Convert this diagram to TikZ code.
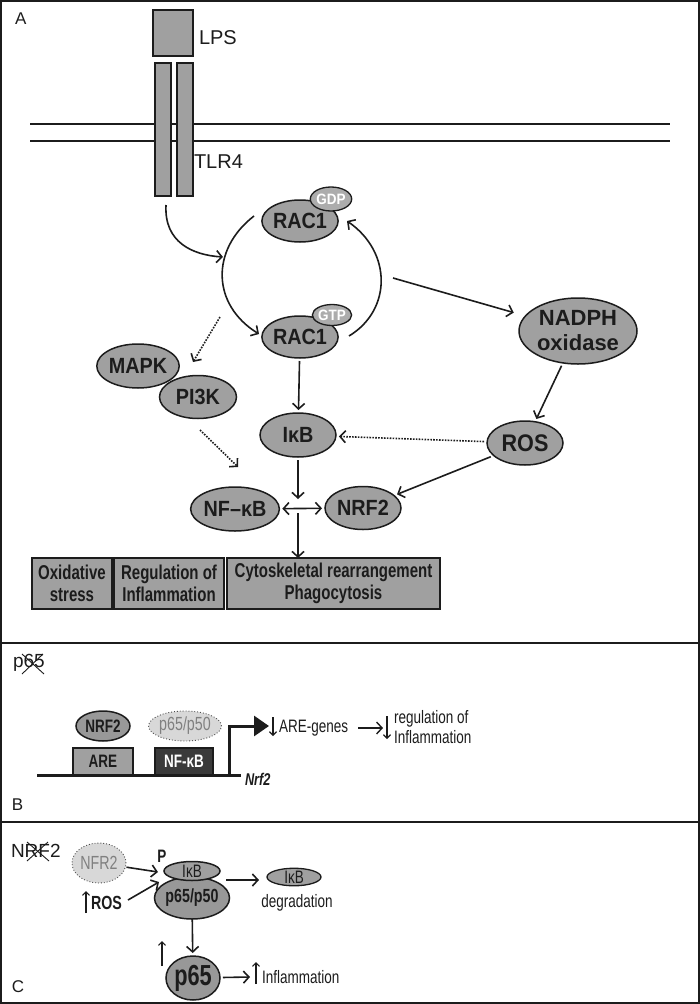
\documentclass[tikz,border=0pt]{standalone}
\usepackage{fontspec}
\setmainfont{Liberation Sans}
\newfontfamily\cond[FakeStretch=0.75]{Liberation Sans}
\newfontfamily\semicond[FakeStretch=0.9]{Liberation Sans}
\usetikzlibrary{arrows.meta,shapes.geometric}
\definecolor{nodegray}{RGB}{160,160,160}
\definecolor{taggray}{RGB}{172,172,172}
\definecolor{lightfill}{RGB}{216,216,216}
\definecolor{txtgray}{RGB}{128,128,128}
\definecolor{darkbox}{RGB}{58,58,58}
\definecolor{ink}{RGB}{28,28,28}
\newcommand\myfs[1]{\fontsize{#1}{#1}\selectfont}
\begin{document}
\begin{tikzpicture}[x=1pt,y=-1pt,
  every node/.style={inner sep=0pt, outer sep=0pt, text=ink},
  mol/.style 2 args={ellipse, draw=ink, line width=1.5pt, fill=nodegray,
    minimum width=#1, minimum height=#2, outer sep=3pt, font=\semicond\bfseries\myfs{22}},
  tag/.style 2 args={ellipse, draw=ink, line width=1.3pt, fill=taggray,
    minimum width=#1, minimum height=#2, text=white, font=\semicond\bfseries\myfs{15}},
  ghost/.style 2 args={ellipse, draw=black!70, dotted, line width=0.9pt, fill=lightfill,
    minimum width=#1, minimum height=#2, text=txtgray, font=\cond\myfs{19}},
  gbox/.style 2 args={rectangle, draw=ink, line width=1.5pt, fill=nodegray,
    minimum width=#1, minimum height=#2},
  arr/.style={-{Straight Barb[length=5.5pt,width=12pt]}, line width=1.6pt, draw=ink},
  sarr/.style={-{Straight Barb[length=3.5pt,width=7pt]}, line width=1.2pt, draw=ink},
  dblarr/.style={{Straight Barb[length=5.5pt,width=12pt]}-{Straight Barb[length=5.5pt,width=12pt]}, line width=1.6pt, draw=ink},
  dotarr/.style={arr, dash pattern=on 1.6pt off 1.3pt},
  lbl/.style={font=\myfs{17}},
  boxtxt/.style={align=center, font=\cond\bfseries\fontsize{20}{22}\selectfont}
]
\useasboundingbox (0,0) rectangle (700,1004);
% frame
\draw[line width=2pt, draw=ink] (1,1) rectangle (699,1003);
\draw[line width=2pt, draw=ink] (1,643) -- (699,643);
\draw[line width=2pt, draw=ink] (1,822) -- (699,822);

%%%%%%%%%%%%%%%% Panel A
\node[lbl, anchor=west] (labA) at (15,19) {A};
\draw[line width=1.8pt, draw=ink] (30,124) -- (670,124);
\draw[line width=1.4pt, draw=ink] (30,141) -- (670,141);
\node[gbox={40pt}{46pt}] (lps) at (173,33) {};
\node[anchor=west, font=\myfs{20}] (lpsl) at (199,38) {LPS};
\node[gbox={16pt}{133pt}] (tlra) at (163,129.5) {};
\node[gbox={16pt}{133pt}] (tlrb) at (185,129.5) {};
\node[anchor=west, font=\myfs{20}] (tlrl) at (194,162) {TLR4};

\node[mol={74pt}{42pt}] (racA) at (300,221) {RAC1};
\node[tag={35pt}{24pt}] (gdp) at (331,199) {GDP};
\node[mol={74pt}{42pt}] (racB) at (300,337) {RAC1};
\node[tag={37pt}{21pt}] (gtp) at (332,315) {GTP};
\node[mol={118pt}{66pt}, font=\bfseries\fontsize{22}{25}\selectfont, align=center] (nadph) at (578,331) {NADPH\\oxidase};
\node[mol={76pt}{44pt}, font=\semicond\bfseries\myfs{24}] (ros) at (525,443) {ROS};
\node[mol={76pt}{44pt}] (ikb) at (298,435) {IκB};
\node[mol={76pt}{44pt}] (mapk) at (138,366) {MAPK};
\node[mol={77pt}{43pt}] (pi3k) at (198,397) {PI3K};
\node[mol={76pt}{44pt}] (nfkb) at (235,509) {NF–κB};
\node[mol={76pt}{43pt}] (nrf2) at (363,508) {NRF2};

% TLR4 to cycle
\coordinate (tlrout) at (166,205);
\coordinate (cycin) at (223,257);
\draw[arr] (tlrout) .. controls (164,242) and (192,255) .. (cycin);
% cycle arcs
\coordinate (la1) at (254,216);
\coordinate (la2) at (259,334);
\draw[arr] (la1) .. controls (210,250) and (212,305) .. (la2);
\coordinate (ra1) at (349,336);
\coordinate (ra2) at (347,221);
\draw[arr] (ra1) .. controls (392,310) and (392,252) .. (ra2);
% to NADPH
\coordinate (cycout) at (393,278);
\draw[arr, shorten >=9pt] (cycout) -- (nadph);
\draw[arr] (nadph) -- (ros);
\draw[dotarr] (ros) -- (ikb);
\draw[arr] (ros) -- (nrf2);
\draw[arr] (racB) -- (ikb);
% dotted to MAPK / PI3K and onwards
\coordinate (d1s) at (220,317);
\coordinate (d1e) at (193,362);
\draw[dotarr] (d1s) -- (d1e);
\coordinate (d2s) at (200,430);
\coordinate (d2e) at (238,467);
\draw[dotarr] (d2s) -- (d2e);
% IkB down, double arrow, down to boxes
\coordinate (jn) at (298,499);
\draw[arr] (ikb) -- (jn);
\draw[dblarr] (nfkb) -- (nrf2);
\coordinate (j2) at (298,513);

\node[gbox={80pt}{51pt}, boxtxt] (b1) at (72,583.5) {Oxidative\\stress};
\node[gbox={110pt}{51pt}, boxtxt] (b2) at (169,583.5) {Regulation of\\Inflammation};
\node[gbox={213pt}{51pt}, boxtxt] (b3) at (333.5,583.5) {Cytoskeletal rearrangement\\Phagocytosis};
\draw[arr] (j2) -- (j2 |- b3.north);

%%%%%%%%%%%%%%%% Panel B
\node[anchor=west, font=\myfs{19}] (p65lab) at (13,663) {p65};
\draw[line width=0.9pt, draw=ink] (22,654) -- (44,674);
\draw[line width=0.9pt, draw=ink] (22,674) -- (43,654);
\node[lbl, anchor=west] (labB) at (12,805) {B};

\draw[line width=3pt, draw=ink] (37,775) -- (241,775);
\node[gbox={60pt}{27pt}, font=\cond\bfseries\myfs{18}] (are) at (103,761.5) {ARE};
\node[gbox={58pt}{27pt}, fill=darkbox, text=white, font=\cond\bfseries\myfs{18}] (nfbox) at (184,761.5) {NF-κB};
\node[mol={54pt}{30pt}, fill=nodegray!95!black, font=\cond\bfseries\myfs{18}] (nrf2b) at (103,726) {NRF2};
\node[ghost={56pt}{30pt}] (p65p50b) at (185,726) {p65/p50};
\coordinate (prom) at (229,775);
\coordinate (promtip) at (269,726);
\draw[line width=3pt, draw=ink, -{Triangle[length=15pt,width=20pt]}] (prom) |- (promtip);
\node[anchor=west, font=\cond\bfseries\itshape\myfs{17}] (nrf2gene) at (245,779) {Nrf2};
\coordinate (dn1a) at (273,717);
\coordinate (dn1b) at (273,736);
\draw[sarr] (dn1a) -- (dn1b);
\node[anchor=west, font=\cond\myfs{18}] (aregenes) at (279,728) {ARE-genes};
\coordinate (dn2a) at (387,716);
\coordinate (dn2b) at (387,739);
\draw[sarr] (dn2a) -- (dn2b);
\node[anchor=west, align=left, font=\cond\fontsize{18}{20}\selectfont] (reg) at (394,727) {regulation of\\Inflammation};
\coordinate (ag) at (358,728);
\coordinate (agE) at (383,728);
\draw[arr, line width=1.4pt] (ag) -- (agE);

%%%%%%%%%%%%%%%% Panel C
\node[anchor=west, font=\myfs{19}] (nrflab) at (11,851) {NRF2};
\draw[line width=0.9pt, draw=ink] (27,842) -- (49,861);
\draw[line width=0.9pt, draw=ink] (27,861) -- (48,842);
\node[lbl, anchor=west] (labC) at (12,987) {C};

\node[ghost={54pt}{40pt}] (nfr2) at (99,863) {NFR2};
\coordinate (up1a) at (86,913);
\coordinate (up1b) at (86,891);
\draw[sarr] (up1a) -- (up1b);
\node[anchor=west, font=\cond\bfseries\myfs{19}] (rosc) at (91,903) {ROS};
\node[font=\cond\bfseries\myfs{18}] (pmark) at (162,856) {P};
\node[mol={56pt}{42pt}, outer sep=0pt, fill=nodegray!95!black, font=\cond\bfseries\myfs{19}] (pp) at (192,898) {p65/p50};
\node[mol={56pt}{19pt}, outer sep=0pt, font=\cond\myfs{18}] (ikbc) at (192,871) {IκB};
\coordinate (ct1) at (158,872);
\coordinate (ct2) at (159,882);
\draw[arr, shorten <=1pt] (nfr2) -- (ct1);
\coordinate (rosout) at (128,900);
\draw[arr] (rosout) -- (ct2);
\node[mol={54pt}{16pt}, outer sep=0pt, line width=1.3pt, font=\cond\myfs{18}] (ikbd) at (294,877) {IκB};
\node[font=\cond\myfs{18}] (degr) at (297,903) {degradation};
\coordinate (c1) at (226,880);
\coordinate (c2) at (259,880);
\draw[arr] (c1) -- (c2);
\node[mol={54pt}{44pt}, fill=nodegray!95!black, font=\cond\bfseries\myfs{29}] (p65c) at (193,978) {p65};
\draw[arr] (pp) -- (p65c);
\coordinate (up2a) at (162,966);
\coordinate (up2b) at (162,941);
\draw[sarr] (up2a) -- (up2b);
\coordinate (up3a) at (256,984);
\coordinate (up3b) at (256,962);
\draw[sarr] (up3a) -- (up3b);
\node[anchor=west, font=\cond\myfs{18}] (infl) at (262,977) {Inflammation};
\coordinate (c3) at (250,977);
\draw[arr] (p65c) -- (c3);
\end{tikzpicture}
\end{document}
